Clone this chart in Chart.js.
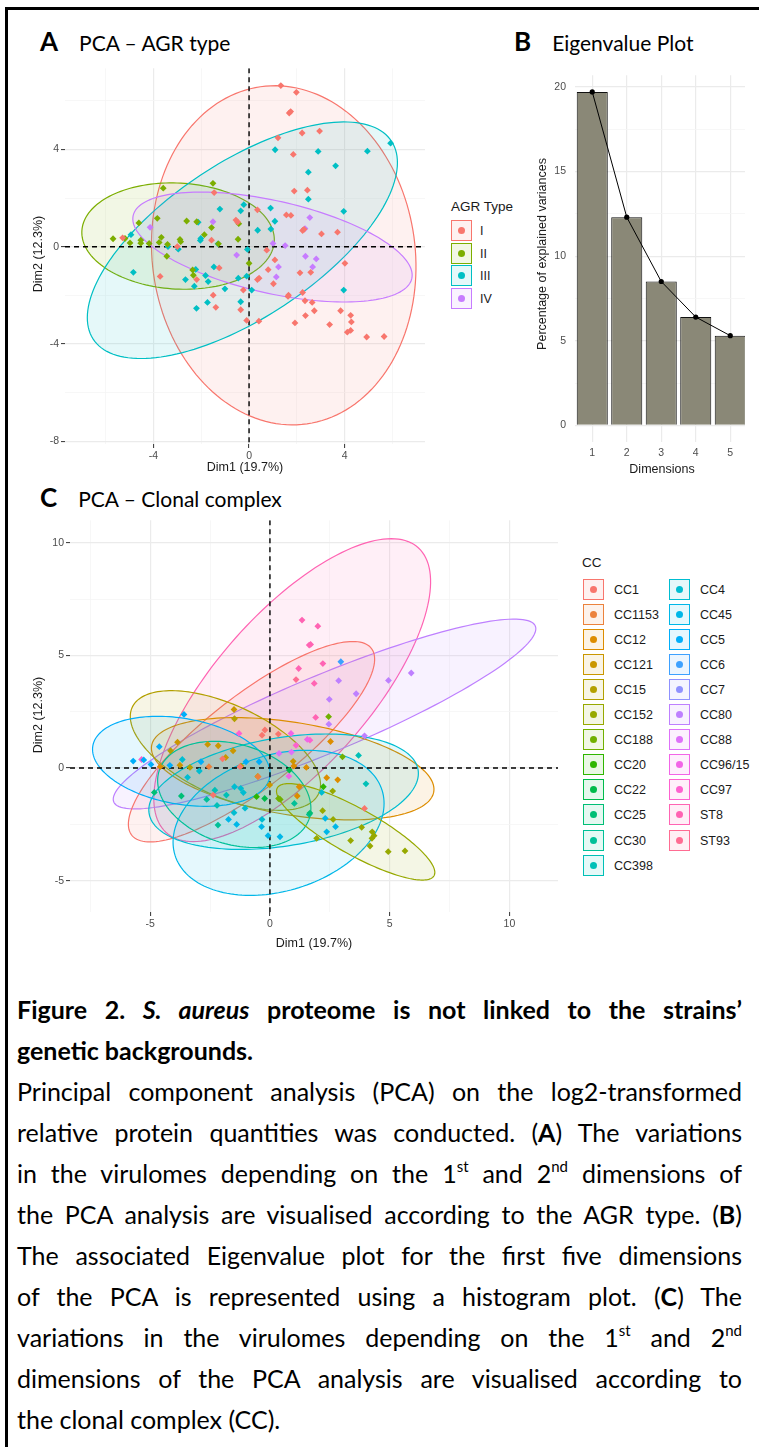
<!DOCTYPE html>
<html>
<head>
<meta charset="utf-8">
<script src="https://cdn.jsdelivr.net/npm/chart.js@4.4.0/dist/chart.umd.min.js"></script>
<style>
  body { margin: 0; width: 759px; height: 1447px; position: relative; overflow: hidden; background: #fff; font-family: 'Liberation Sans', Arial, sans-serif; color: #1a1a1a; }
  .abs { position: absolute; }
  .frame-l { left: 5px; top: 7px; width: 3px; height: 1440px; background: #000; }
  .frame-t { left: 5px; top: 7px; width: 754px; height: 3px; background: #000; }
  .ptitle { display: flex; align-items: baseline; font-family: Lato, 'Open Sans', sans-serif; white-space: nowrap; color: #000; }
  .ptitle b { font-size: 26px; font-weight: 700; margin-right: 21px; }
  .ptitle span { font-size: 21px; }
  .axt { font-size: 12.5px; text-align: center; white-space: nowrap; }
  .roty { transform: rotate(-90deg); }
  .leg-title { font-size: 13.5px; }
  .key { width: 19px; height: 19px; border: 1.5px solid; }
  .key i { position: absolute; left: 6px; top: 6px; width: 7px; height: 7px; border-radius: 50%; }
  .lab { font-size: 12.5px; line-height: 22px; }
  .cap { left: 17px; width: 725px; font-family: Lato, 'Open Sans', sans-serif; font-size: 25px; line-height: 41px; color: #000; }
  .just { text-align: justify; text-align-last: justify; }
  .cap sup { font-size: 0.6em; line-height: 0; vertical-align: 0.75em; }
</style>
</head>
<body>
<div class="abs frame-l"></div>
<div class="abs frame-t"></div>

<div class="abs ptitle" style="left:40px; top:25px;"><b>A</b><span>PCA – AGR type</span></div>
<div class="abs ptitle" style="left:514px; top:25px;"><b>B</b><span>Eigenvalue Plot</span></div>
<div class="abs ptitle" style="left:40px; top:481px;"><b>C</b><span>PCA – Clonal complex</span></div>

<div class="abs" style="left:25px; top:60px; width:405px; height:410px;"><canvas id="chartA" width="405" height="410"></canvas></div>
<div class="abs" style="left:540px; top:60px; width:205px; height:400px; overflow:hidden;"><canvas id="chartB" width="215" height="400"></canvas></div>
<div class="abs" style="left:30px; top:512px; width:535px; height:425px;"><canvas id="chartC" width="535" height="425"></canvas></div>

<div class="abs axt" style="left:185px; top:460px; width:120px;">Dim1 (19.7%)</div>
<div class="abs axt roty" style="left:-22px; top:247px; width:120px;">Dim2 (12.3%)</div>
<div class="abs axt" style="left:602px; top:462px; width:120px;">Dimensions</div>
<div class="abs axt roty" style="left:442px; top:247px; width:200px;">Percentage of explained variances</div>
<div class="abs axt" style="left:254px; top:936px; width:120px;">Dim1 (19.7%)</div>
<div class="abs axt roty" style="left:-22px; top:708px; width:120px;">Dim2 (12.3%)</div>

<div id="legA"></div>
<div id="legC"></div>

<div class="abs cap just" style="top:989px;"><b>Figure 2. <i>S. aureus</i> proteome is not linked to the strains’</b></div>
<div class="abs cap" style="top:1030px;"><b>genetic backgrounds.</b></div>
<div class="abs cap just" style="top:1071px;">Principal component analysis (PCA) on the log2-transformed</div>
<div class="abs cap just" style="top:1112px;">relative protein quantities was conducted. (<b>A</b>) The variations</div>
<div class="abs cap just" style="top:1153px;">in the virulomes depending on the 1<sup>st</sup> and 2<sup>nd</sup> dimensions of</div>
<div class="abs cap just" style="top:1194px;">the PCA analysis are visualised according to the AGR type. (<b>B</b>)</div>
<div class="abs cap just" style="top:1235px;">The associated Eigenvalue plot for the first five dimensions</div>
<div class="abs cap just" style="top:1276px;">of the PCA is represented using a histogram plot. (<b>C</b>) The</div>
<div class="abs cap just" style="top:1317px;">variations in the virulomes depending on the 1<sup>st</sup> and 2<sup>nd</sup></div>
<div class="abs cap just" style="top:1358px;">dimensions of the PCA analysis are visualised according to</div>
<div class="abs cap" style="top:1399px;">the clonal complex (CC).</div>

<script>
// ---- panel A: PCA by AGR type ----
const agrTypes = ['I', 'II', 'III', 'IV']

const agrI = [[1.33,6.63],[1.98,6.35],[1.68,5.5],[1.74,5.56],[1.21,4.48],[2.22,4.68],[2.95,4.76],[1.85,3.8],[1.89,2.29],[2.44,2.33],
  [1.56,1.31],[1.75,1.29],[2.24,0.67],[2.3,0.72],[3.03,0.53],[3.7,0.6],[0.35,1.52],[-0.55,1.1],[-0.48,1.02],[-1.46,2.23],
  [-1.57,0.27],[-3.0,0.01],[-5.29,0.37],[-3.72,-1.22],[-1.25,-0.87],[-2.19,-1.35],[-1.5,-1.99],[-1.39,-2.49],[-0.35,-2.59],[-0.1,-3.03],
  [0.41,-3.06],[-0.24,-1.78],[0.35,-1.35],[0.42,-1.29],[0.74,-0.14],[1.08,-0.54],[0.8,-0.94],[1.02,-1.52],[1.63,-2.04],[1.65,-1.99],
  [2.13,-1.07],[2.58,-1.05],[2.24,-1.88],[2.34,-2.22],[2.64,-2.29],[2.73,-2.63],[2.36,-2.83],[1.92,-3.13],[4.01,-0.68],[3.83,-2.63],
  [4.25,-2.82],[4.28,-3.09],[4.11,-3.51],[4.25,-3.44],[3.37,-3.2],[4.92,-3.71],[5.65,-3.69]]
const agrII = [[-3.59,2.41],[-1.51,2.61],[-5.69,0.33],[-5.19,0.34],[-4.98,0.16],[-4.61,0.98],[-4.53,0.27],[-4.53,0.15],[-4.18,0.14],[-3.84,1.17],
  [-3.67,0.39],[-3.76,0.18],[-3.41,0.1],[-2.89,0.3],[-2.86,0.21],[-2.61,1.06],[-2.19,1.03],[-3.44,-0.39],[-1.87,0.5],[-1.57,0.79],
  [-1.28,0.12],[-0.43,0.95],[-0.46,0.31],[-2.36,-0.95],[-2.33,-1.17],[0,-0.68]]
const agrIII = [[5.92,4.26],[4.95,3.93],[2.89,3.92],[1.09,3.99],[3.62,3.33],[2.48,3.07],[2.48,1.96],[3.96,1.46],[0.9,1.59],[1.08,1.05],
  [0.36,0.68],[0.91,0.73],[-0.22,1.73],[-0.35,1.48],[-1.22,1.55],[-2.13,1.01],[-2.02,0.34],[-2.04,0.26],[-2.96,-0.1],[-3.39,0.01],
  [-1.3,0.12],[-0.07,-0.11],[-4.94,0.5],[-4.84,-1.05],[-2.23,-0.93],[-2.66,-1.35],[-2.29,-1.62],[-1.82,-1.18],[-1.71,-1.43],[-1.47,-0.83],
  [-2.2,-2.53],[-1.74,-2.29],[-1.01,-1.73],[-0.45,-1.29],[-0.1,-1.21],[-0.35,-2.26],[0.11,-1.78],[3.96,-1.78]]
const agrIV = [[2.54,1.2],[2.34,0.75],[1.51,0.05],[1.0,0.14],[2.36,-0.39],[2.81,-0.5],[2.66,-0.83],[1.23,-0.83],[1.14,-1.24],[-0.52,-0.34],
  [-1.51,1.03],[-4.14,0.8]]

// confidence ellipses: [centre x, centre y, semi-axis a, semi-axis b, angle deg]
const agrEllipses = [[1.45,-0.35,7.0,5.5,98],[-2.97,0.44,4.03,2.18,-3],[-0.28,0.27,7.45,3.2,33],[0.98,-0.01,5.97,1.9,-12.5]]

const aTicksX = [-6, -4, -2, 0, 2, 4, 6]
const aTicksY = [-8, -6, -4, -2, 0, 2, 4, 6]

// ---- panel B: eigenvalues ----
const dims = ['1', '2', '3', '4', '5']
const explained = [19.7, 12.3, 8.5, 6.4, 5.3]
const bTicksY = [0, 2.5, 5, 7.5, 10, 12.5, 15, 17.5, 20]

// ---- panel C: PCA by clonal complex ----
const ccNames = ['CC1','CC1153','CC12','CC121','CC15','CC152','CC188','CC20','CC22','CC25','CC30','CC398',
  'CC4','CC45','CC5','CC6','CC7','CC80','CC88','CC96/15','CC97','ST8','ST93']

// rows: [dim1, dim2, index in ccNames]
const ccPoints = [
  [1.34,6.57,21],[2.0,6.3,21],[1.7,5.49,21],[1.2,4.42,21],[2.21,4.64,21],[1.85,3.76,21],[1.91,2.25,21],[1.64,5.46,21],
  [1.09,3.93,22],[2.96,4.72,15],
  [2.87,3.88,17],[3.6,3.3,17],[2.48,3.05,17],[4.95,3.89,17],[5.9,4.22,17],[2.46,1.95,17],[3.95,1.43,17],
  [0.38,0.65,18],[0.9,0.71,18],
  [0.88,1.54,19],[1.56,1.27,19],[0.79,-0.36,19],
  [1.67,1.24,20],[1.09,1.01,20],[-1.29,1.54,20],[-5.36,0.38,20],
  [2.2,-1.89,5],[2.64,-2.28,5],[1.95,-3.12,5],[3.37,-3.22,5],[3.83,-2.63,5],[4.27,-2.83,5],[4.26,-3.12,5],[4.18,-3.46,5],
  [4.94,-3.71,5],[5.64,-3.68,5],[2.62,-1.02,5],[4.35,-3.0,5],
  [2.45,2.28,6],[3.03,0.5,6],[0.36,-1.35,6],[0.43,-1.39,6],
  [-0.21,1.69,0],[-0.33,1.46,0],[0.35,1.51,0],[-1.25,0.06,0],[-1.98,0.41,0],[-2.37,-1.2,0],[3.95,-1.79,0],
  [1.0,0.09,2],[1.52,0.03,2],[2.37,-0.43,2],[2.83,-0.52,2],[2.53,1.18,2],[1.22,-0.83,2],[1.14,-1.24,2],[-4.58,0.06,2],
  [-1.5,2.6,3],[-3.86,1.15,3],[-2.6,1.05,3],[-2.16,0.99,3],[-1.54,0.77,3],[-1.85,0.47,3],[-0.51,-0.37,3],[-0.01,-0.75,3],
  [-3.76,0.13,3],[0.97,0.3,3],
  [-1.48,2.19,4],[-4.15,0.77,4],[-3.34,0.03,4],[-1.21,0.09,4],
  [2.23,-0.83,7],[-0.56,-1.27,7],
  [-0.22,-1.35,8],[0.81,-0.09,8],
  [-4.83,-1.08,9],[-3.7,-1.24,9],[1.67,-2.0,9],
  [1.02,-1.57,10],[1.64,-2.06,10],[-2.17,-2.53,10],[-2.64,-1.39,10],
  [4.01,-0.7,11],[3.7,0.56,11],[-2.21,-1.66,11],[-1.82,-1.2,11],[-2.3,-0.98,11],
  [2.16,-1.08,12],[-0.33,-2.28,12],[-1.5,-1.98,12],[-1.04,-1.78,12],[-1.48,-0.83,12],[-1.22,-0.9,12],[-1.11,-1.09,12],
  [-3.44,-0.41,12],[-2.95,-0.13,12],[-3.66,0.38,12],
  [2.31,-2.23,13],[2.74,-2.6,13],[2.37,-2.83,13],[0.42,-3.05,13],[-0.08,-3.0,13],[-0.35,-2.6,13],[-1.39,-2.5,13],[-1.73,-2.28,13],
  [-5.71,0.31,14],[-5.27,0.36,14],[-4.97,0.16,14],[-4.62,0.95,14],[-4.18,0.12,14],[-3.59,2.38,14],[-2.88,0.28,14],
  [-0.45,0.28,14],[-1.0,0.28,14],
  [-2.55,0.06,1],[-0.49,-0.38,1]
]

// rows: [index in ccNames, centre x, centre y, a, b, angle deg]
const ccEllipses = [
  [21, 0.93, 3.46, 8.23, 3.3, 51],
  [17, 2.28, 2.40, 9.63, 1.7, 24],
  [0, -0.77, 1.17, 6.5, 2.0, 40],
  [2, 0.95, -0.03, 5.98, 2.05, -10],
  [4, -1.86, 0.78, 4.34, 2.0, -27],
  [14, -3.70, 0.30, 3.76, 1.9, -11],
  [13, 0.36, -2.43, 4.56, 3.0, 20],
  [12, 0.57, -1.05, 5.7, 2.4, 10],
  [10, -1.49, -1.17, 3.31, 2.2, -20],
  [5, 3.58, -2.83, 3.81, 1.0, -31]
]

const cTicksX = [-7.5, -5, -2.5, 0, 2.5, 5, 7.5, 10]
const cTicksY = [-5, -2.5, 0, 2.5, 5, 7.5, 10]

// ggplot2 default hue palette (polar LUV)
function hcl(h, c, l) {
  const hr = h * Math.PI / 180
  const U = c * Math.cos(hr), V = c * Math.sin(hr)
  const Y = l > 8 ? Math.pow((l + 16) / 116, 3) : l / 903.3
  const u = U / (13 * l) + 0.1978398, v = V / (13 * l) + 0.4683363
  const X = Y * 9 * u / (4 * v), Z = Y * (12 - 3 * u - 20 * v) / (4 * v)
  const lin = [3.240479 * X - 1.53715 * Y - 0.498535 * Z, -0.969256 * X + 1.875992 * Y + 0.041556 * Z, 0.055648 * X - 0.204043 * Y + 1.057311 * Z]
  return lin.map(t => {
    t = Math.max(0, Math.min(1, t))
    return Math.round(255 * (t <= 0.0031308 ? 12.92 * t : 1.055 * Math.pow(t, 1 / 2.4) - 0.055))
  })
}
const huePal = n => Array.from({ length: n }, (_, i) => hcl(15 + 360 * i / n, 100, 65))
const rgba = (c, a) => `rgba(${c[0]},${c[1]},${c[2]},${a})`

const agrCols = huePal(4)
const ccCols = huePal(23)

// draws ellipses and the dashed zero lines through the chart scales
function ellipsePlugin(items) {
  return {
    id: 'ellipses',
    beforeDatasetsDraw(chart) {
      const { ctx, chartArea: ca, scales: { x, y } } = chart
      ctx.save()
      ctx.beginPath()
      ctx.rect(ca.left, ca.top, ca.right - ca.left, ca.bottom - ca.top)
      ctx.clip()
      items.forEach(e => {
        const th = e.angle * Math.PI / 180
        ctx.beginPath()
        for (let i = 0; i <= 160; i++) {
          const t = i / 160 * Math.PI * 2
          const dx = e.a * Math.cos(t), dy = e.b * Math.sin(t)
          const px = x.getPixelForValue(e.cx + dx * Math.cos(th) - dy * Math.sin(th))
          const py = y.getPixelForValue(e.cy + dx * Math.sin(th) + dy * Math.cos(th))
          if (i) ctx.lineTo(px, py)
          else ctx.moveTo(px, py)
        }
        ctx.closePath()
        ctx.fillStyle = rgba(e.col, 0.1)
        ctx.fill()
        ctx.strokeStyle = rgba(e.col, 1)
        ctx.lineWidth = 1.2
        ctx.stroke()
      })
      ctx.strokeStyle = '#000'
      ctx.lineWidth = 1.4
      ctx.setLineDash([5, 4])
      const x0 = x.getPixelForValue(0), y0 = y.getPixelForValue(0)
      ctx.beginPath()
      ctx.moveTo(x0, ca.top); ctx.lineTo(x0, ca.bottom)
      ctx.moveTo(ca.left, y0); ctx.lineTo(ca.right, y0)
      ctx.stroke()
      ctx.restore()
    }
  }
}

const tickFont = { family: 'Liberation Sans', size: 10.5 }

function pcaAxis(min, max, vals, every, pos, size) {
  const isMajor = v => Math.abs(v / every - Math.round(v / every)) < 1e-6
  return {
    type: 'linear', position: pos, min: min, max: max,
    afterBuildTicks: s => { s.ticks = vals.map(v => ({ value: v })) },
    afterFit: s => { if (pos === 'left') s.width = size; else s.height = size },
    border: { display: false },
    grid: {
      color: c => c.tick && isMajor(c.tick.value) ? '#EBEBEB' : '#F5F5F5',
      lineWidth: c => c.tick && isMajor(c.tick.value) ? 1.2 : 0.8,
      tickColor: c => c.tick && isMajor(c.tick.value) ? '#333333' : 'rgba(0,0,0,0)',
      tickWidth: 1,
      tickLength: 4
    },
    ticks: {
      autoSkip: false, maxRotation: 0, color: '#4D4D4D', font: tickFont, padding: pos === 'left' ? 2 : 2,
      callback: v => isMajor(v) ? String(v) : ''
    }
  }
}

Chart.defaults.animation = false

new Chart(document.getElementById('chartA'), {
  type: 'scatter',
  data: {
    datasets: [agrI, agrII, agrIII, agrIV].map((pts, i) => ({
      label: agrTypes[i],
      data: pts.map(p => ({ x: p[0], y: p[1] })),
      pointStyle: 'rectRot', pointRadius: 3.4, borderWidth: 0,
      backgroundColor: rgba(agrCols[i], 1)
    }))
  },
  options: {
    responsive: false,
    layout: { padding: { top: 7, right: 5, left: 0, bottom: 0 } },
    plugins: { legend: { display: false }, tooltip: { enabled: false } },
    scales: {
      x: pcaAxis(-7.7, 7.36, aTicksX, 4, 'bottom', 26),
      y: pcaAxis(-8.11, 7.34, aTicksY, 4, 'left', 40)
    }
  },
  plugins: [ellipsePlugin(agrEllipses.map((e, i) => ({ cx: e[0], cy: e[1], a: e[2], b: e[3], angle: e[4], col: agrCols[i] })))]
})

new Chart(document.getElementById('chartB'), {
  type: 'bar',
  data: {
    labels: dims,
    datasets: [
      { type: 'line', data: explained, borderColor: '#000', borderWidth: 1, pointRadius: 2.6,
        pointBackgroundColor: '#000', pointBorderWidth: 0, order: 0 },
      { type: 'bar', data: explained, backgroundColor: '#8A8877', borderColor: '#111', borderWidth: 1,
        barPercentage: 0.9, categoryPercentage: 1, order: 1 }
    ]
  },
  options: {
    responsive: false,
    layout: { padding: { top: 6, right: 7.5, left: 0, bottom: 0 } },
    plugins: { legend: { display: false }, tooltip: { enabled: false } },
    scales: {
      x: {
        offset: true,
        afterFit: s => { s.height = 18 },
        border: { display: false },
        grid: { offset: false, color: '#EBEBEB', lineWidth: 1.2, drawTicks: false },
        ticks: { color: '#4D4D4D', font: tickFont, padding: 5 }
      },
      y: {
        min: -0.98, max: 20.68,
        afterBuildTicks: s => { s.ticks = bTicksY.map(v => ({ value: v })) },
        afterFit: s => { s.width = 35 },
        border: { display: false },
        grid: {
          color: c => c.tick && c.tick.value % 5 === 0 ? '#EBEBEB' : '#F5F5F5',
          lineWidth: c => c.tick && c.tick.value % 5 === 0 ? 1.2 : 0.8,
          drawTicks: false
        },
        ticks: { color: '#4D4D4D', font: tickFont, padding: 9, callback: v => v % 5 === 0 ? String(v) : '' }
      }
    }
  }
})

new Chart(document.getElementById('chartC'), {
  type: 'scatter',
  data: {
    datasets: ccNames.map((name, g) => ({
      label: name,
      data: ccPoints.filter(p => p[2] === g).map(p => ({ x: p[0], y: p[1] })),
      pointStyle: 'rectRot', pointRadius: 3.4, borderWidth: 0,
      backgroundColor: rgba(ccCols[g], 1)
    }))
  },
  options: {
    responsive: false,
    layout: { padding: { top: 8, right: 7, left: 0, bottom: 0 } },
    plugins: { legend: { display: false }, tooltip: { enabled: false } },
    scales: {
      x: pcaAxis(-8.35, 12.03, cTicksX, 5, 'bottom', 25),
      y: pcaAxis(-6.39, 11.0, cTicksY, 5, 'left', 40)
    }
  },
  plugins: [ellipsePlugin(ccEllipses.map(e => ({ cx: e[1], cy: e[2], a: e[3], b: e[4], angle: e[5], col: ccCols[e[0]] })))]
})

// legends as html
function legendKey(parent, left, top, col, text, labelLeft) {
  parent.innerHTML += `
    <div class="abs key" style="left:${left}px; top:${top}px; border-color:${rgba(col, 1)}; background:${rgba(col, 0.1)};">
      <i style="background:${rgba(col, 1)}"></i>
    </div>
    <div class="abs lab" style="left:${labelLeft}px; top:${top}px;">${text}</div>`
}

const legA = document.getElementById('legA')
legA.innerHTML = '<div class="abs leg-title" style="left:451px; top:199px;">AGR Type</div>'
agrTypes.forEach((t, i) => legendKey(legA, 451, 220 + i * 22.7, agrCols[i], t, 480))

const legC = document.getElementById('legC')
legC.innerHTML = '<div class="abs leg-title" style="left:582px; top:555px;">CC</div>'
ccNames.forEach((n, i) => {
  const col = i < 12 ? 0 : 1
  const row = i < 12 ? i : i - 12
  legendKey(legC, col ? 669 : 582.5, 578.5 + row * 25.1, ccCols[i], n, col ? 700 : 614)
})

// caption: one shared font size, the largest that keeps every justified line on one line
const capLines = [...document.querySelectorAll('.cap')]
let capSize = 25
const wraps = () => capLines.some(el => el.getBoundingClientRect().height > 50)
while (wraps() && capSize > 14) {
  capSize -= 0.5
  capLines.forEach(el => { el.style.fontSize = capSize + 'px' })
}
</script>
</body>
</html>
